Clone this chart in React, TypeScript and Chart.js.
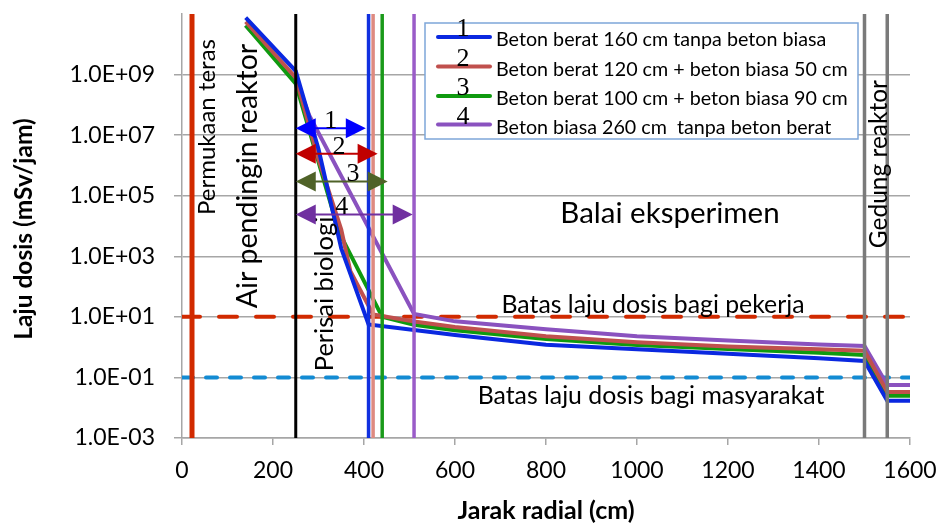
import React, { useEffect, useRef } from 'react';
import { Chart, registerables } from 'chart.js';

Chart.register(...registerables);

// ---------- data ----------
const xTicks = [0, 200, 400, 600, 800, 1000, 1200, 1400, 1600];
const yTickExponents = [-3, -1, 1, 3, 5, 7, 9];

const seriesLabels = [
  'Beton berat 160 cm tanpa beton biasa',
  'Beton berat 120 cm + beton biasa 50 cm',
  'Beton berat 100 cm + beton biasa 90 cm',
  'Beton biasa 260 cm  tanpa beton berat',
];
const seriesNumbers = ['1', '2', '3', '4'];

const blueX = [140, 250, 300, 350, 410, 510, 600, 800, 1000, 1200, 1400, 1500, 1550, 1600];
const blueY = [7.6e10, 1.3e9, 3.5e6, 1.8e3, 5.6, 3.7, 2.5, 1.2, 0.85, 0.6, 0.43, 0.35, 0.017, 0.017];

const brownX = [140, 250, 300, 350, 370, 420, 510, 600, 800, 1000, 1200, 1400, 1500, 1550, 1600];
const brownY = [5.6e10, 7.9e8, 1.6e6, 7.6e3, 320, 12, 7.0, 4.6, 2.3, 1.45, 1.05, 0.85, 0.76, 0.033, 0.033];

const greenX = [140, 250, 300, 345, 440, 510, 600, 800, 1000, 1200, 1400, 1500, 1550, 1600];
const greenY = [4.2e10, 5.0e8, 1.3e6, 6.3e3, 10, 5.5, 3.6, 1.86, 1.17, 0.87, 0.65, 0.55, 0.025, 0.025];

const purpleX = [140, 250, 280, 510, 600, 800, 1000, 1200, 1400, 1500, 1550, 1600];
const purpleY = [4.2e10, 7.1e8, 4.4e7, 12.5, 7.1, 3.9, 2.3, 1.66, 1.23, 1.1, 0.056, 0.056];

// boundaries (cm)
const boundaryX = [22, 250, 410, 420, 440, 510, 1500, 1550];
// dose limits (mSv/jam)
const workerLimit = 10;
const publicLimit = 0.1;

// shield thickness arrows
const arrowStart = 250;
const arrowEnds = [404, 430, 452, 507];
const arrowLevels = [1.7e7, 2.45e6, 2.95e5, 2.4e4];
const arrowLabelX = [327, 345, 376, 351];

// ---------- styles ----------
const seriesColors = ['#0a28e0', '#c0504d', '#0f9a0f', '#8a52bf'];
const boundaryColors = ['#d12a00', '#000000', '#1030e0', '#de8a80', '#1a9a1a', '#9a5cc8', '#7a7a7a', '#7a7a7a'];
const boundaryWidths = [5, 3, 3.5, 3.5, 3.5, 3.5, 3.5, 3.5];
const arrowColors = ['#0000ff', '#c00000', '#4f6228', '#7030a0'];
const FONT = 'Lato, "Noto Sans", sans-serif';
const SERIF = '"Liberation Serif", "DejaVu Serif", serif';

const pts = (xs: number[], ys: number[]) => xs.map((x, i) => ({ x, y: ys[i] }));

const fmtExp = (v: number) => {
  const e = Math.round(Math.log10(v));
  return '1.0E' + (e < 0 ? '-' : '+') + String(Math.abs(e)).padStart(2, '0');
};

const annotPlugin = {
  id: 'annot',
  beforeDraw(chart: any) {
    const { ctx, width, height } = chart;
    ctx.save();
    ctx.fillStyle = '#ffffff';
    ctx.fillRect(0, 0, width, height);
    ctx.restore();
  },
  afterDatasetsDraw(chart: any) {
    const { ctx } = chart;
    const xs = chart.scales.x;
    const ys = chart.scales.y;
    const X = (v: number) => xs.getPixelForValue(v);
    const Y = (v: number) => ys.getPixelForValue(v);
    ctx.save();

    // rotated region labels
    const rot = (text: string, bx: number, cy: number, size: number, align: string = 'center') => {
      ctx.save();
      ctx.translate(bx, cy);
      ctx.rotate(-Math.PI / 2);
      ctx.font = `${size}px ${FONT}`;
      ctx.fillStyle = '#000';
      ctx.textAlign = align;
      ctx.textBaseline = 'alphabetic';
      ctx.fillText(text, 0, 0);
      ctx.restore();
    };
    rot('Permukaan teras', 215, 127, 24);
    rot('Air pendingin reaktor', 257, 176, 28.5);
    rot('Perisai biologi', 333, 294, 25.5);
    rot('Gedung reaktor', 887, 80, 24.5, 'right');

    const hor = (text: string, cx: number, by: number, size: number) => {
      ctx.font = `${size}px ${FONT}`;
      ctx.fillStyle = '#000';
      ctx.textAlign = 'center';
      ctx.textBaseline = 'alphabetic';
      ctx.fillText(text, cx, by);
    };
    hor('Balai eksperimen', 670, 223, 29.5);
    hor('Batas laju dosis bagi pekerja', 653, 313, 24.8);
    hor('Batas laju dosis bagi masyarakat', 651, 404, 24.8);

    // arrows
    arrowEnds.forEach((end, i) => {
      const y = Y(arrowLevels[i]);
      const x1 = X(arrowStart);
      const x2 = X(end);
      const hl = 20, hw = 10;
      ctx.strokeStyle = arrowColors[i];
      ctx.fillStyle = arrowColors[i];
      ctx.lineWidth = 2;
      ctx.beginPath();
      ctx.moveTo(x1 + hl - 2, y);
      ctx.lineTo(x2 - hl + 2, y);
      ctx.stroke();
      ctx.beginPath();
      ctx.moveTo(x1, y);
      ctx.lineTo(x1 + hl, y - hw);
      ctx.lineTo(x1 + hl, y + hw);
      ctx.closePath();
      ctx.fill();
      ctx.beginPath();
      ctx.moveTo(x2, y);
      ctx.lineTo(x2 - hl, y - hw);
      ctx.lineTo(x2 - hl, y + hw);
      ctx.closePath();
      ctx.fill();
      ctx.font = `26px ${SERIF}`;
      ctx.fillStyle = '#000';
      ctx.textAlign = 'center';
      ctx.textBaseline = 'alphabetic';
      ctx.fillText(seriesNumbers[i], X(arrowLabelX[i]), y);
    });
    ctx.restore();
  },
  afterDraw(chart: any) {
    const { ctx } = chart;
    ctx.save();
    // legend box
    const lx = 425, ly = 23, lw = 433, lh = 116;
    ctx.fillStyle = '#ffffff';
    ctx.fillRect(lx, ly, lw, lh);
    ctx.strokeStyle = '#7ea6d9';
    ctx.lineWidth = 1.5;
    ctx.strokeRect(lx, ly, lw, lh);
    const rows = [37, 66.5, 96, 124.5];
    seriesLabels.forEach((lab, i) => {
      const y = rows[i];
      ctx.strokeStyle = seriesColors[i];
      ctx.lineWidth = 4;
      ctx.lineCap = 'round';
      ctx.beginPath();
      ctx.moveTo(438, y);
      ctx.lineTo(490, y);
      ctx.stroke();
      ctx.font = `26px ${SERIF}`;
      ctx.fillStyle = '#000';
      ctx.textAlign = 'center';
      ctx.textBaseline = 'alphabetic';
      ctx.fillText(seriesNumbers[i], 463, y - 1);
      ctx.font = `19.7px ${FONT}`;
      ctx.textAlign = 'left';
      ctx.fillText(lab, 496, y + 9);
    });
    // axis titles
    ctx.fillStyle = '#000';
    ctx.textAlign = 'center';
    ctx.textBaseline = 'alphabetic';
    ctx.font = `bold 25px ${FONT}`;
    ctx.fillText('Jarak radial (cm)', 546, 519);
    ctx.save();
    ctx.translate(32, 229);
    ctx.rotate(-Math.PI / 2);
    ctx.font = `bold 24.5px ${FONT}`;
    ctx.fillText('Laju dosis (mSv/jam)', 0, 0);
    ctx.restore();
    ctx.restore();
  },
};

export default function App() {
  const ref = useRef<HTMLCanvasElement | null>(null);
  useEffect(() => {
    if (!ref.current) return;
    const seriesSets = [
      pts(blueX, blueY),
      pts(brownX, brownY),
      pts(greenX, greenY),
      pts(purpleX, purpleY),
    ].map((data, i) => ({
      label: seriesLabels[i],
      data,
      showLine: true,
      borderColor: seriesColors[i],
      backgroundColor: seriesColors[i],
      borderWidth: 4,
      pointRadius: 0,
      tension: 0,
      order: 1,
    }));
    const boundarySets = boundaryX.map((bx, i) => ({
      label: 'b' + i,
      data: [{ x: bx, y: 1e-3 }, { x: bx, y: 1e11 }],
      showLine: true,
      borderColor: boundaryColors[i],
      borderWidth: boundaryWidths[i],
      pointRadius: 0,
      order: 0,
    }));
    const limitSets = [
      {
        label: 'pekerja',
        data: [{ x: 0, y: workerLimit }, { x: 1600, y: workerLimit }],
        showLine: true,
        borderColor: '#d12a00',
        borderWidth: 4,
        borderDash: [18, 19],
        borderCapStyle: 'round',
        pointRadius: 0,
        order: 2,
      },
      {
        label: 'masyarakat',
        data: [{ x: 0, y: publicLimit }, { x: 1600, y: publicLimit }],
        showLine: true,
        borderColor: '#138bd3',
        borderWidth: 4,
        borderDash: [11, 13],
        borderCapStyle: 'round',
        pointRadius: 0,
        order: 2,
      },
    ];
    const chart = new Chart(ref.current, {
      type: 'scatter',
      data: { datasets: [...seriesSets, ...boundarySets, ...limitSets] as any },
      options: {
        responsive: false,
        devicePixelRatio: 1,
        animation: false,
        events: [],
        layout: { padding: { left: 0, right: 28, top: 14, bottom: 0 } },
        plugins: { legend: { display: false }, tooltip: { enabled: false } },
        scales: {
          x: {
            type: 'linear',
            min: 0,
            max: 1600,
            afterFit: (s: any) => { s.height = 87; s.paddingLeft = 0; s.paddingRight = 0; },
            afterBuildTicks: (s: any) => { s.ticks = xTicks.map((v) => ({ value: v })); },
            ticks: { color: '#000', font: { family: FONT, size: 23 }, padding: 12, maxRotation: 0, callback: (v: any) => String(v) },
            grid: { drawOnChartArea: false, drawTicks: true, tickLength: 7, color: '#a6a6a6', lineWidth: 1.5 },
            border: { display: true, color: '#a6a6a6', width: 1.5 },
          },
          y: {
            type: 'logarithmic',
            min: 1e-3,
            max: 1e11,
            afterFit: (s: any) => { s.width = 182; s.paddingTop = 0; s.paddingBottom = 0; },
            afterBuildTicks: (s: any) => { s.ticks = yTickExponents.map((e) => ({ value: Math.pow(10, e) })); },
            ticks: { color: '#000', font: { family: FONT, size: 23 }, padding: 19, callback: (v: any) => fmtExp(Number(v)) },
            grid: { drawTicks: true, tickLength: 8, color: '#a6a6a6', lineWidth: 1.5 },
            border: { display: true, color: '#a6a6a6', width: 1.5 },
          },
        },
      } as any,
      plugins: [annotPlugin as any],
    });
    return () => chart.destroy();
  }, []);
  return (
    <div style={{ position: 'fixed', left: 0, top: 0, width: 938, height: 525, background: '#fff' }}>
      <canvas ref={ref} width={938} height={525} style={{ display: 'block', width: 938, height: 525 }} />
    </div>
  );
}
